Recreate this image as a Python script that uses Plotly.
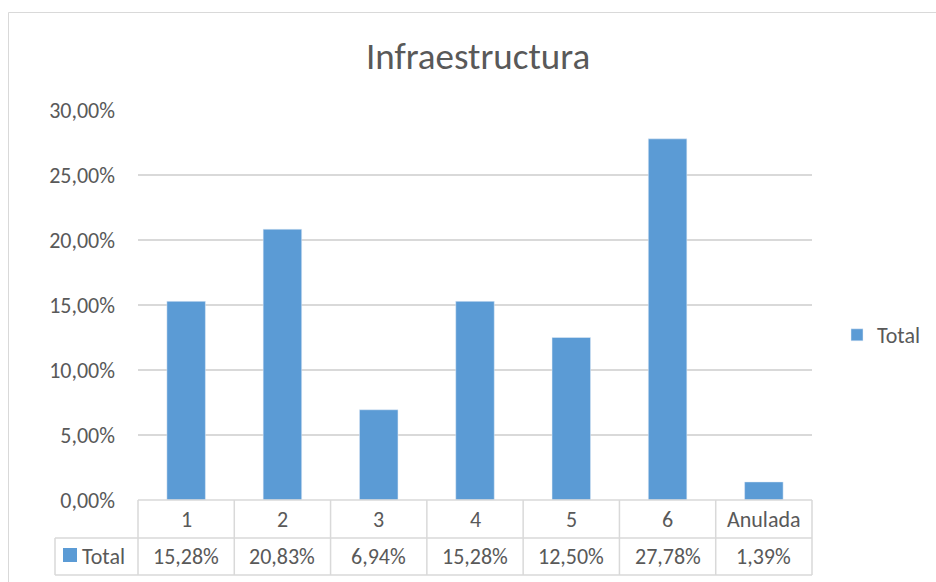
import plotly.graph_objects as go

categories = ["1", "2", "3", "4", "5", "6", "Anulada"]
values = [0.1528, 0.2083, 0.0694, 0.1528, 0.1250, 0.2778, 0.0139]
value_labels = ["15,28%", "20,83%", "6,94%", "15,28%", "12,50%", "27,78%", "1,39%"]
series_name = "Total"
title_text = "Infraestructura"

BAR = "#5b9bd5"
TXT = "#595959"
GRID = "#d9d9d9"
FONT = "Calibri, Carlito, Lato, sans-serif"
FS = 22

W, H = 936, 582
L, R, T, B = 138, 812, 110, 500
pw, ph = R - L, B - T

def px2x(px):
    return (px - L) / pw

def py2y(py):
    return (B - py) / ph

n = len(categories)
fig = go.Figure()
fig.add_trace(go.Bar(x=categories, y=values, name=series_name, marker_color=BAR,
                     width=0.4, showlegend=True))

shapes = []
# outer chart border
shapes.append(dict(type="rect", xref="paper", yref="paper",
                   x0=px2x(8.5), x1=px2x(945), y0=py2y(595), y1=py2y(12.5),
                   line=dict(color=GRID, width=1), fillcolor="rgba(0,0,0,0)", layer="below"))
row1_top, row1_bot, row2_bot = py2y(500), py2y(538), py2y(575)
left2 = px2x(55)
line = dict(color=GRID, width=1.5)
shapes.append(dict(type="line", xref="paper", yref="paper", x0=0, x1=1, y0=row1_top, y1=row1_top, line=line))
shapes.append(dict(type="line", xref="paper", yref="paper", x0=left2, x1=1, y0=row1_bot, y1=row1_bot, line=line))
shapes.append(dict(type="line", xref="paper", yref="paper", x0=left2, x1=1, y0=row2_bot, y1=row2_bot, line=line))
shapes.append(dict(type="line", xref="paper", yref="paper", x0=left2, x1=left2, y0=row1_bot, y1=row2_bot, line=line))
for k in range(n + 1):
    xx = k / n
    shapes.append(dict(type="line", xref="paper", yref="paper", x0=xx, x1=xx,
                       y0=row1_top, y1=row2_bot, line=line))
# legend key in table
shapes.append(dict(type="rect", xref="paper", yref="paper",
                   x0=px2x(63), x1=px2x(77), y0=py2y(562), y1=py2y(548),
                   fillcolor=BAR, line=dict(width=0)))

tf = dict(size=FS, color=TXT, family=FONT)
annotations = []
for i, (c, v) in enumerate(zip(categories, value_labels)):
    xc = (i + 0.5) / n
    annotations.append(dict(x=xc, y=py2y(519), xref="paper", yref="paper", text=c,
                            xanchor="center", yanchor="middle", showarrow=False, font=tf))
    annotations.append(dict(x=xc, y=py2y(556), xref="paper", yref="paper", text=v,
                            xanchor="center", yanchor="middle", showarrow=False, font=tf))
annotations.append(dict(x=px2x(80), y=py2y(556), xref="paper", yref="paper", text=series_name,
                        xanchor="left", yanchor="middle", showarrow=False, font=tf))

fig.update_layout(
    width=W, height=H,
    margin=dict(l=L, r=W - R, t=T, b=H - B, autoexpand=False),
    paper_bgcolor="white", plot_bgcolor="white",
    separators=",.",
    title=dict(text=title_text, x=478 / W, xanchor="center", y=1 - 56 / H, yanchor="middle",
               font=dict(size=37, color=TXT, family=FONT)),
    font=dict(family=FONT, color=TXT, size=FS),
    xaxis=dict(showticklabels=False, showgrid=False, zeroline=False, showline=False,
               range=[-0.5, n - 0.5]),
    yaxis=dict(range=[0, 0.30], dtick=0.05, tickformat=".2%", showgrid=True, gridcolor=GRID,
               gridwidth=1.5, zeroline=False, showline=False, ticklabelstandoff=22,
               tickfont=tf),
    legend=dict(x=px2x(837), y=py2y(335), xanchor="left", yanchor="middle",
                font=tf, itemwidth=30),
    shapes=shapes, annotations=annotations, bargap=0.6,
)

fig.write_html("out.html", config={"displayModeBar": False},
               post_script="document.body.style.margin='0';")
